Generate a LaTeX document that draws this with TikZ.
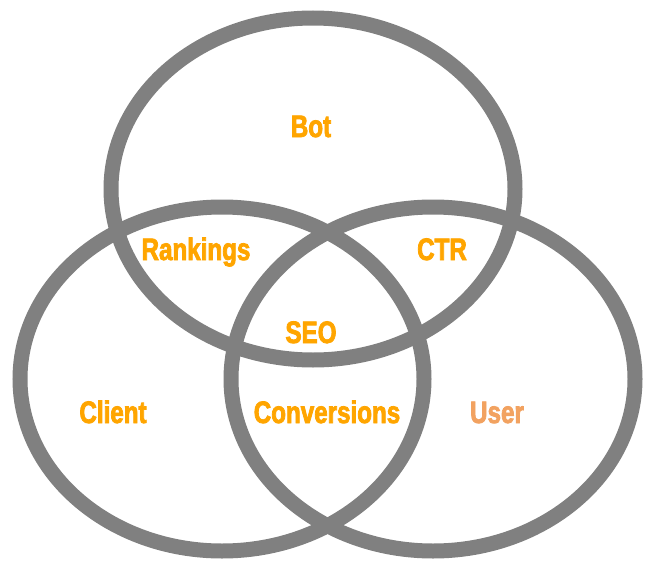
\documentclass[tikz,border=0pt]{standalone}
\usepackage{fontspec}
\setmainfont{Liberation Sans}[FakeStretch=0.78, BoldFeatures={FakeBold=2.5}]
\usepackage{xcolor}
\usepackage{tikz}
\definecolor{ringgray}{RGB}{128,128,128}
\definecolor{tagorange}{RGB}{255,165,0}
\definecolor{tagsand}{RGB}{242,162,96}

\begin{document}
\begin{tikzpicture}[x=1pt, y=-1pt]
\tikzstyle{ring}=[draw=ringgray, line width=15pt]
\tikzstyle{tag}=[font=\fontsize{31}{31}\selectfont\bfseries, text=tagorange, inner sep=0pt, anchor=base]
\useasboundingbox (0,0) rectangle (648,570);
% the three sets
\draw[ring] (313,189) ellipse [x radius=202pt, y radius=171pt];
\draw[ring] (222,379) ellipse [x radius=202pt, y radius=172pt];
\draw[ring] (433,379) ellipse [x radius=202pt, y radius=172pt];
% labels
\node[tag] (bot) at (311,137) {Bot};
\node[tag] (rankings) at (196,260) {Rankings};
\node[tag] (ctr) at (442,260) {CTR};
\node[tag] (seo) at (311,343) {SEO};
\node[tag] (client) at (113,423) {Client};
\node[tag] (conversions) at (327,423) {Conversions};
\node[tag, text=tagsand] (user) at (497,423) {User};
\end{tikzpicture}
\end{document}
